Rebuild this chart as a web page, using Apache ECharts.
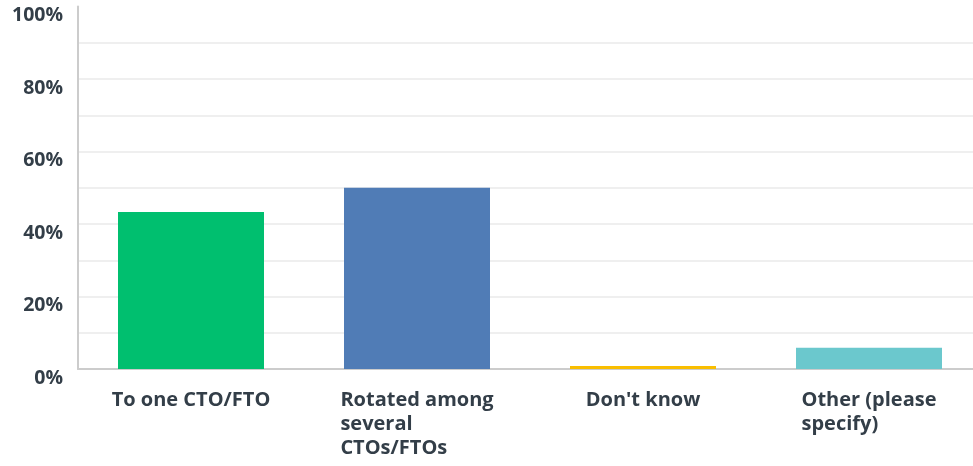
<!DOCTYPE html>
<html>
<head>
<meta charset="utf-8">
<script src="https://cdn.jsdelivr.net/npm/echarts@6/dist/echarts.min.js"></script>
<style>
	html, body { margin: 0; padding: 0; background: #fff; overflow: hidden; }
	/* plot runs a little past the right edge of the window, like the original */
	#chart { width: 982px; height: 466px; }
</style>
</head>
<body>
<div id="chart"></div>
<script>
// answer choices and share of respondents (%)
var categories = ['To one CTO/FTO', 'Rotated among several CTOs/FTOs', "Don't know", 'Other (please specify)'];
var shares = [43.33, 50.0, 0.83, 5.83];
var barColors = ['#00bf6f', '#507cb6', '#f9be00', '#6bc8cd'];
var yTicks = [0, 20, 40, 60, 80, 100];

// wrap a label into lines of at most n chars, left aligned inside a centred block
function wrapLabel(text, n) {
	var words = text.split(' ');
	var lines = [];
	var cur = '';
	for (var i = 0; i < words.length; i++) {
		var next = cur ? cur + ' ' + words[i] : words[i];
		if (next.length > n && cur) {
			lines.push(cur);
			cur = words[i];
		} else {
			cur = next;
		}
	}
	if (cur) lines.push(cur);
	return lines.map(function (l) { return '{a|' + l + '}'; }).join('\n');
}

var gridColors = [];
for (var i = 0; i <= 10; i++) {
	gridColors.push(i === 10 ? 'rgba(0,0,0,0)' : '#efefef');
}

var chart = echarts.init(document.getElementById('chart'), null, { renderer: 'canvas' });
chart.setOption({
	animation: false,
	grid: { left: 78, top: 6.5, right: 0, bottom: 97, containLabel: false },
	xAxis: {
		type: 'category',
		data: categories,
		axisLine: { show: true, lineStyle: { color: '#cccccc', width: 2 } },
		axisTick: { show: false },
		axisLabel: {
			margin: 19,
			interval: 0,
			formatter: function (v) { return wrapLabel(v, 14); },
			rich: {
				a: {
					align: 'left',
					fontFamily: 'Open Sans',
					fontSize: 20,
					fontWeight: 'bold',
					color: '#333e48',
					lineHeight: 24
				}
			}
		}
	},
	yAxis: {
		type: 'value',
		min: 0,
		max: 100,
		interval: 10,
		axisLine: { show: true, lineStyle: { color: '#cccccc', width: 2 } },
		axisTick: { show: false },
		splitLine: { show: true, lineStyle: { color: gridColors, width: 2 } },
		axisLabel: {
			margin: 15,
			verticalAlign: 'top',
			lineHeight: 18,
			fontFamily: 'Open Sans',
			fontSize: 19.5,
			fontWeight: 'bold',
			color: '#333e48',
			formatter: function (v) { return yTicks.indexOf(v) >= 0 ? v + '%' : ''; }
		}
	},
	series: [{
		type: 'bar',
		barWidth: 146,
		data: shares.map(function (v, i) {
			return { value: v, itemStyle: { color: barColors[i] } };
		})
	}]
});
</script>
</body>
</html>
